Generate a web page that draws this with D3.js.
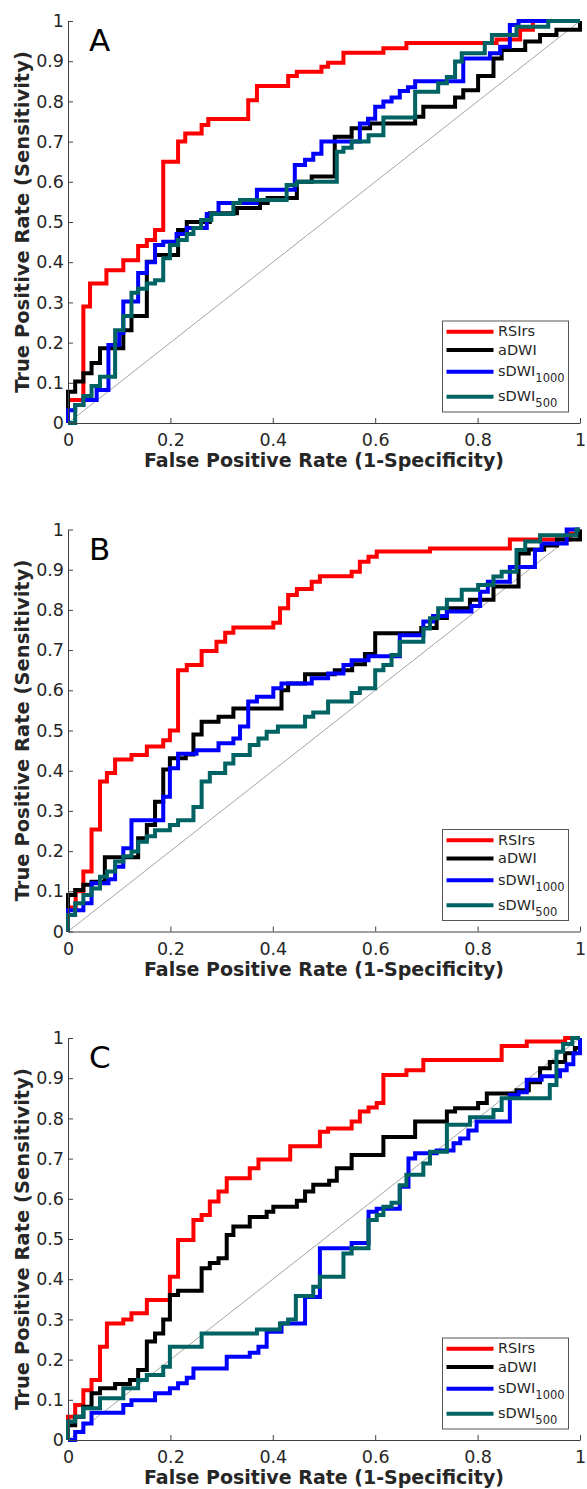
<!DOCTYPE html>
<html>
  <head>
    <meta charset="utf-8">
    <title>ROC curves</title>
    <script src="https://d3js.org/d3.v7.min.js"></script>
    <style>
      body { margin: 0; background: #fff; }
    </style>
  </head>
  <body>
    <div id="chart"></div>
  </body>
  <script>
  // ROC points: [FPR, TPR] at the top of each vertical step
  var panels   = ["A", "B", "C"];
  var series   = ["RSIrs", "aDWI", "sDWI1000", "sDWI500"];
  var colors   = ["#ff0000", "#000000", "#0000ff", "#006363"];
  var xTicks   = [0, 0.2, 0.4, 0.6, 0.8, 1];
  var yTicks   = [0, 0.1, 0.2, 0.3, 0.4, 0.5, 0.6, 0.7, 0.8, 0.9, 1];

  var A_RSIrs = [[0,0],[0,0.057],[0.03,0.29],[0.043,0.347],[0.075,0.38],[0.108,0.405],[0.137,0.44],[0.154,0.455],[0.17,0.48],[0.186,0.65],[0.215,0.70],[0.229,0.72],[0.261,0.741],[0.274,0.756],[0.352,0.803],[0.369,0.838],[0.43,0.863],[0.447,0.874],[0.495,0.886],[0.508,0.896],[0.538,0.921],[0.616,0.932],[0.661,0.945],[0.837,0.954],[0.883,0.978],[0.908,1],[1,1]];
  var A_aDWI = [[0,0],[0,0.078],[0.014,0.103],[0.03,0.124],[0.046,0.149],[0.0625,0.186],[0.108,0.231],[0.124,0.266],[0.154,0.401],[0.17,0.418],[0.215,0.48],[0.232,0.50],[0.277,0.522],[0.33,0.535],[0.375,0.547],[0.39,0.56],[0.447,0.60],[0.476,0.613],[0.521,0.712],[0.554,0.733],[0.59,0.745],[0.678,0.762],[0.694,0.787],[0.756,0.81],[0.772,0.828],[0.801,0.863],[0.831,0.907],[0.847,0.928],[0.893,0.949],[0.922,0.965],[0.954,0.978],[1,1]];
  var A_sDWI1000 = [[0,0],[0,0.032],[0.014,0.045],[0.03,0.057],[0.056,0.082],[0.079,0.194],[0.1,0.224],[0.108,0.302],[0.137,0.373],[0.154,0.40],[0.17,0.443],[0.186,0.451],[0.212,0.47],[0.232,0.485],[0.271,0.52],[0.294,0.547],[0.369,0.58],[0.443,0.642],[0.463,0.655],[0.479,0.67],[0.495,0.70],[0.57,0.745],[0.586,0.757],[0.6,0.787],[0.616,0.80],[0.632,0.81],[0.648,0.826],[0.664,0.835],[0.678,0.85],[0.772,0.907],[0.824,0.92],[0.844,0.936],[0.863,0.99],[0.88,1],[1,1]];
  var A_sDWI500 = [[0,0],[0.014,0.045],[0.03,0.067],[0.046,0.092],[0.0625,0.115],[0.092,0.231],[0.108,0.266],[0.124,0.324],[0.137,0.334],[0.154,0.347],[0.17,0.355],[0.186,0.41],[0.199,0.443],[0.215,0.455],[0.232,0.47],[0.245,0.485],[0.26,0.505],[0.28,0.52],[0.323,0.547],[0.336,0.555],[0.427,0.592],[0.447,0.60],[0.525,0.675],[0.538,0.685],[0.554,0.70],[0.587,0.716],[0.616,0.76],[0.678,0.824],[0.723,0.845],[0.74,0.861],[0.756,0.899],[0.769,0.92],[0.814,0.945],[0.828,0.965],[0.876,0.986],[0.938,1],[1,1]];

  var B_RSIrs = [[0,0],[0,0.06],[0.015,0.1],[0.03,0.149],[0.046,0.254],[0.0625,0.373],[0.076,0.394],[0.092,0.428],[0.124,0.439],[0.154,0.46],[0.186,0.476],[0.199,0.50],[0.215,0.65],[0.232,0.663],[0.261,0.698],[0.29,0.721],[0.307,0.743],[0.323,0.756],[0.401,0.768],[0.414,0.804],[0.43,0.837],[0.447,0.852],[0.476,0.87],[0.492,0.884],[0.554,0.895],[0.57,0.92],[0.587,0.932],[0.603,0.945],[0.707,0.953],[0.863,0.975],[0.98,0.99],[1,1]];
  var B_aDWI = [[0,0],[0,0.091],[0.014,0.103],[0.03,0.116],[0.046,0.124],[0.072,0.185],[0.137,0.232],[0.154,0.265],[0.17,0.323],[0.186,0.403],[0.199,0.431],[0.23,0.44],[0.245,0.49],[0.261,0.522],[0.294,0.534],[0.323,0.555],[0.417,0.60],[0.43,0.617],[0.463,0.64],[0.521,0.65],[0.555,0.665],[0.58,0.69],[0.6,0.742],[0.69,0.755],[0.72,0.78],[0.74,0.804],[0.785,0.825],[0.831,0.858],[0.88,0.94],[0.9,0.95],[0.93,0.96],[0.955,0.975],[1,1]];
  var B_sDWI1000 = [[0,0],[0,0.053],[0.03,0.07],[0.046,0.12],[0.079,0.13],[0.092,0.161],[0.108,0.207],[0.124,0.277],[0.186,0.335],[0.199,0.406],[0.215,0.442],[0.251,0.451],[0.294,0.468],[0.323,0.48],[0.336,0.51],[0.352,0.572],[0.369,0.584],[0.401,0.605],[0.417,0.617],[0.476,0.63],[0.508,0.642],[0.538,0.663],[0.554,0.675],[0.587,0.685],[0.648,0.737],[0.694,0.771],[0.713,0.785],[0.74,0.796],[0.788,0.81],[0.805,0.845],[0.82,0.87],[0.863,0.907],[0.912,0.949],[0.925,0.965],[0.974,1],[1,1]];
  var B_sDWI500 = [[0,0],[0,0.041],[0.014,0.07],[0.03,0.091],[0.046,0.107],[0.0625,0.136],[0.076,0.149],[0.092,0.174],[0.108,0.187],[0.124,0.199],[0.137,0.223],[0.154,0.237],[0.17,0.252],[0.199,0.265],[0.215,0.277],[0.245,0.31],[0.261,0.373],[0.277,0.394],[0.307,0.418],[0.323,0.439],[0.355,0.464],[0.372,0.48],[0.388,0.497],[0.41,0.51],[0.463,0.534],[0.479,0.545],[0.508,0.572],[0.554,0.593],[0.57,0.605],[0.6,0.65],[0.616,0.663],[0.632,0.688],[0.648,0.721],[0.694,0.754],[0.707,0.779],[0.723,0.804],[0.74,0.825],[0.769,0.85],[0.801,0.862],[0.831,0.883],[0.847,0.895],[0.876,0.949],[0.893,0.97],[0.922,0.986],[0.993,1],[1,1]];

  var C_RSIrs = [[0,0],[0,0.058],[0.014,0.087],[0.03,0.124],[0.046,0.149],[0.0625,0.232],[0.076,0.29],[0.108,0.30],[0.124,0.315],[0.154,0.348],[0.199,0.406],[0.215,0.4975],[0.245,0.547],[0.261,0.56],[0.277,0.593],[0.294,0.618],[0.31,0.651],[0.355,0.676],[0.372,0.698],[0.434,0.731],[0.492,0.767],[0.508,0.775],[0.554,0.792],[0.57,0.817],[0.587,0.827],[0.603,0.838],[0.616,0.908],[0.661,0.92],[0.694,0.945],[0.847,0.98],[0.896,0.991],[0.971,1],[1,1]];
  var C_aDWI = [[0,0],[0,0.037],[0.014,0.058],[0.03,0.083],[0.046,0.116],[0.0625,0.129],[0.092,0.139],[0.121,0.149],[0.137,0.174],[0.154,0.245],[0.17,0.265],[0.186,0.30],[0.199,0.361],[0.215,0.371],[0.261,0.427],[0.277,0.44],[0.294,0.452],[0.31,0.51],[0.323,0.531],[0.355,0.555],[0.388,0.568],[0.401,0.58],[0.447,0.595],[0.463,0.618],[0.479,0.635],[0.51,0.645],[0.525,0.676],[0.554,0.709],[0.616,0.754],[0.678,0.792],[0.74,0.817],[0.756,0.825],[0.801,0.838],[0.818,0.862],[0.876,0.87],[0.9,0.89],[0.922,0.925],[0.941,0.94],[0.971,0.962],[0.99,0.975],[1,1]];
  var C_sDWI1000 = [[0,0],[0.014,0.02],[0.03,0.041],[0.046,0.068],[0.108,0.087],[0.124,0.099],[0.17,0.116],[0.199,0.129],[0.215,0.141],[0.232,0.155],[0.245,0.178],[0.31,0.207],[0.355,0.217],[0.372,0.232],[0.388,0.269],[0.417,0.29],[0.463,0.356],[0.492,0.477],[0.554,0.49],[0.587,0.568],[0.603,0.575],[0.648,0.63],[0.665,0.70],[0.678,0.713],[0.72,0.72],[0.753,0.738],[0.766,0.75],[0.782,0.77],[0.798,0.792],[0.863,0.858],[0.88,0.865],[0.896,0.896],[0.925,0.905],[0.961,0.92],[0.974,0.935],[0.987,0.962],[1,1]];
  var C_sDWI500 = [[0,0],[0,0.046],[0.014,0.058],[0.03,0.079],[0.0625,0.104],[0.108,0.129],[0.137,0.149],[0.154,0.162],[0.186,0.182],[0.199,0.232],[0.261,0.265],[0.369,0.275],[0.414,0.29],[0.43,0.30],[0.445,0.358],[0.479,0.381],[0.492,0.406],[0.538,0.464],[0.554,0.477],[0.587,0.547],[0.603,0.56],[0.616,0.58],[0.632,0.59],[0.648,0.634],[0.661,0.66],[0.694,0.688],[0.707,0.717],[0.74,0.784],[0.785,0.803],[0.831,0.821],[0.847,0.85],[0.941,0.883],[0.954,0.966],[0.967,0.985],[0.985,1],[1,1]];

  var curves = {
    A: [A_RSIrs, A_aDWI, A_sDWI1000, A_sDWI500],
    B: [B_RSIrs, B_aDWI, B_sDWI1000, B_sDWI500],
    C: [C_RSIrs, C_aDWI, C_sDWI1000, C_sDWI500]
  };

  var W = 587, H = 1489;
  var plotH = 402, panelStep = 508.5, firstTop = 21;
  var axisColor = "#404040";
  var font = "'DejaVu Sans', sans-serif";

  var svg = d3.select("#chart")
      .append("svg")
      .attr("width", W)
      .attr("height", H);

  var x = d3.scaleLinear().domain([0, 1]).range([68, 580]);

  panels.forEach((name, pi) => {
    let top = firstTop + pi * panelStep;
    let y = d3.scaleLinear().domain([0, 1]).range([top + plotH, top]);
    let g = svg.append("g");

    // 对角参考线
    g.append("line")
      .attr("x1", x(0)).attr("y1", y(0))
      .attr("x2", x(1)).attr("y2", y(1))
      .attr("stroke", "#9a9a9a")
      .attr("stroke-width", 0.9);

    let line = d3.line()
      .x(d => x(d[0]))
      .y(d => y(d[1]))
      .curve(d3.curveStepAfter);

    g.selectAll("path.roc")
      .data(curves[name])
      .enter()
      .append("path")
      .attr("class", "roc")
      .attr("d", line)
      .attr("fill", "none")
      .attr("stroke", (d, i) => colors[i])
      .attr("stroke-width", 4)
      .attr("stroke-linejoin", "miter");

    // axes, ticks inside
    let xAxis = d3.axisBottom(x)
      .tickValues(xTicks)
      .tickFormat(d3.format("~g"))
      .tickSizeInner(-5)
      .tickSizeOuter(0)
      .tickPadding(11);
    let yAxis = d3.axisLeft(y)
      .tickValues(yTicks)
      .tickFormat(d3.format("~g"))
      .tickSizeInner(-5)
      .tickSizeOuter(0)
      .tickPadding(4);

    let gx = g.append("g")
      .attr("transform", "translate(0," + y(0) + ")")
      .call(xAxis);
    let gy = g.append("g")
      .attr("transform", "translate(" + x(0) + ",0)")
      .call(yAxis);

    [gx, gy].forEach(a => {
      a.attr("font-family", font).attr("font-size", 17.5);
      a.selectAll("path, line").attr("stroke", axisColor);
      a.selectAll("text").attr("fill", "#262626");
    });

    // axis titles
    g.append("text")
      .attr("x", (x(0) + x(1)) / 2)
      .attr("y", y(0) + 44)
      .attr("text-anchor", "middle")
      .attr("font-family", font)
      .attr("font-weight", "bold")
      .attr("font-size", 19)
      .attr("fill", "#262626")
      .text("False Positive Rate (1-Specificity)");

    g.append("text")
      .attr("transform", "translate(22," + ((y(0) + y(1)) / 2) + ") rotate(-90)")
      .attr("text-anchor", "middle")
      .attr("dominant-baseline", "central")
      .attr("font-family", font)
      .attr("font-weight", "bold")
      .attr("font-size", 19.5)
      .attr("fill", "#262626")
      .text("True Positive Rate (Sensitivity)");

    // panel letter
    g.append("text")
      .attr("x", 89)
      .attr("y", top + 30)
      .attr("font-family", font)
      .attr("font-size", 31)
      .attr("fill", "#000")
      .text(name);

    // legend
    let bottom = y(0);
    let lg = g.append("g");
    lg.append("rect")
      .attr("x", 442.5)
      .attr("y", bottom - 102)
      .attr("width", 126)
      .attr("height", 91)
      .attr("fill", "#fff")
      .attr("stroke", "#555")
      .attr("stroke-width", 1);

    let rowY = [-91.3, -73, -51.3, -26.3];
    let labels = [["RSIrs", ""], ["aDWI", ""], ["sDWI", "1000"], ["sDWI", "500"]];
    series.forEach((s, i) => {
      let yy = bottom + rowY[i];
      lg.append("line")
        .attr("x1", 446.5).attr("x2", 493.5)
        .attr("y1", yy).attr("y2", yy)
        .attr("stroke", colors[i])
        .attr("stroke-width", 4);
      let t = lg.append("text")
        .attr("x", 498)
        .attr("y", yy + 4.5)
        .attr("font-family", font)
        .attr("font-size", 14.5)
        .attr("fill", "#262626");
      t.append("tspan").text(labels[i][0]);
      if (labels[i][1]) {
        t.append("tspan")
          .attr("dy", 6)
          .attr("font-size", 11.5)
          .text(labels[i][1]);
      }
    });
  });
  </script>
</html>
